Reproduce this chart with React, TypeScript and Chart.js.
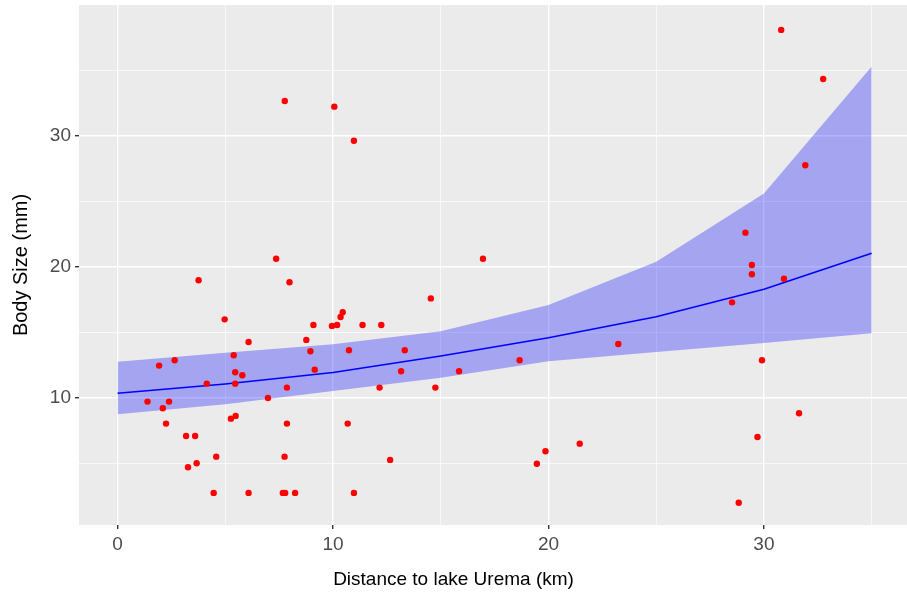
import React, { useEffect, useRef } from 'react';
import { Chart, registerables } from 'chart.js';

Chart.register(...registerables);

// Observed points (distance to lake Urema, km ; body size, mm)
const distanceKm = [
  3.76, 7.98, 14.54, 4.97, 10.45, 10.35, 9.09, 9.95, 10.19, 11.37, 12.24,
  6.08, 8.76, 8.95, 10.74, 13.33, 5.39, 2.65, 1.93, 5.46, 5.79, 9.15, 13.16,
  15.85, 4.14, 5.46, 7.86, 12.16, 14.75, 6.98, 1.39, 2.39, 2.1, 2.25, 5.26,
  5.48, 7.86, 10.68, 3.18, 3.6, 4.58, 7.75, 3.27, 3.67, 12.65, 4.46, 6.08,
  7.67, 7.78, 8.24, 10.97, 7.76, 10.06, 10.97, 7.36, 16.96, 30.8, 32.75,
  31.92, 29.14, 29.44, 29.44, 30.93, 28.52, 23.24, 18.66, 29.91, 31.63, 29.7,
  21.45, 19.86, 19.46, 28.83,
];
const bodySizeMm = [
  18.98, 18.83, 17.6, 16.0, 16.54, 16.18, 15.57, 15.5, 15.57, 15.57, 15.57,
  14.27, 14.43, 13.56, 13.64, 13.64, 13.26, 12.88, 12.47, 11.96, 11.73, 12.16,
  12.04, 12.04, 11.09, 11.09, 10.79, 10.79, 10.79, 10.0, 9.72, 9.72, 9.21,
  8.04, 8.42, 8.63, 8.04, 8.04, 7.1, 7.1, 5.52, 5.52, 4.71, 5.02, 5.27, 2.75,
  2.75, 2.75, 2.75, 2.75, 2.75, 32.67, 32.24, 29.64, 20.63, 20.63, 38.1,
  34.35, 27.76, 22.62, 20.15, 19.44, 19.1, 17.3, 14.12, 12.88, 12.88, 8.83,
  7.02, 6.51, 5.93, 4.98, 2.0,
];

// Fitted curve and confidence band
const fitX = [0, 5, 10, 15, 20, 25, 30, 35];
const fitY = [10.36, 11.07, 11.95, 13.2, 14.6, 16.2, 18.3, 21.05];
const lowerY = [8.76, 9.52, 10.53, 11.55, 12.8, 13.5, 14.2, 14.94];
const upperY = [12.77, 13.46, 14.1, 15.1, 17.1, 20.4, 25.6, 35.3];

// Axis ticks
const xMajorTicks = [0, 10, 20, 30];
const xMinorTicks = [5, 15, 25, 35];
const yMajorTicks = [10, 20, 30];
const yMinorTicks = [5, 15, 25, 35];

const FONT = "'Liberation Sans', Arial, Helvetica, sans-serif";

const panelBg = {
  id: 'panelBg',
  beforeDraw(chart: any) {
    const { ctx, chartArea } = chart;
    if (!chartArea) return;
    ctx.save();
    ctx.fillStyle = '#EBEBEB';
    ctx.fillRect(chartArea.left, chartArea.top, chartArea.right - chartArea.left, chartArea.bottom - chartArea.top);
    ctx.restore();
  },
};

// Let the panel run to the right edge of the canvas, as in the reference
const fullWidth = {
  id: 'fullWidth',
  afterLayout(chart: any) {
    const ca = chart.chartArea;
    const w = chart.width;
    if (ca && ca.right < w) {
      ca.right = w;
      ca.width = ca.right - ca.left;
      const xs = chart.scales.x;
      xs.right = w;
      xs.width = xs.right - xs.left;
      xs.configure();
    }
  },
};

function gridFor(major: number[]) {
  return {
    color: '#FFFFFF',
    lineWidth: (c: any) => (c.tick && major.includes(c.tick.value) ? 1.4 : 0.7),
    tickColor: (c: any) => (c.tick && major.includes(c.tick.value) ? '#333333' : 'rgba(0,0,0,0)'),
    tickLength: 4,
    drawTicks: true,
    drawOnChartArea: true,
  };
}

export default function App() {
  const ref = useRef<HTMLCanvasElement | null>(null);

  useEffect(() => {
    if (!ref.current) return;
    const xTicks = [...xMajorTicks, ...xMinorTicks].sort((a, b) => a - b);
    const yTicks = [...yMajorTicks, ...yMinorTicks].sort((a, b) => a - b);
    const chart = new Chart(ref.current, {
      type: 'scatter',
      data: {
        datasets: [
          {
            label: 'Observed',
            data: distanceKm.map((x, i) => ({ x, y: bodySizeMm[i] })),
            showLine: false,
            pointRadius: 3.2,
            pointBackgroundColor: '#FF0000',
            pointBorderColor: '#FF0000',
            pointBorderWidth: 0,
          },
          {
            label: 'Fit',
            data: fitX.map((x, i) => ({ x, y: fitY[i] })),
            showLine: true,
            borderColor: '#0000FF',
            borderWidth: 1.5,
            pointRadius: 0,
            fill: false,
          },
          {
            label: 'Upper',
            data: fitX.map((x, i) => ({ x, y: upperY[i] })),
            showLine: true,
            borderColor: 'rgba(0,0,0,0)',
            borderWidth: 0,
            pointRadius: 0,
            backgroundColor: 'rgba(0,0,255,0.3)',
            fill: 3,
          },
          {
            label: 'Lower',
            data: fitX.map((x, i) => ({ x, y: lowerY[i] })),
            showLine: true,
            borderColor: 'rgba(0,0,0,0)',
            borderWidth: 0,
            pointRadius: 0,
            fill: false,
          },
        ],
      },
      options: {
        animation: false,
        responsive: false,
        events: [],
        layout: { padding: { top: 5, left: 0, right: 0, bottom: 0 } },
        plugins: {
          legend: { display: false },
          tooltip: { enabled: false },
          title: {
            display: true,
            position: 'bottom',
            align: 'center',
            text: 'Distance to lake Urema (km)',
            color: '#000000',
            font: { family: FONT, size: 19, weight: 'normal', lineHeight: 1.2 },
            padding: { top: 0, bottom: 6 },
          },
        },
        scales: {
          x: {
            type: 'linear',
            min: -1.79,
            max: 36.64,
            border: { display: false },
            grid: gridFor(xMajorTicks) as any,
            afterBuildTicks: (scale: any) => {
              scale.ticks = xTicks.map((v) => ({ value: v }));
            },
            afterFit: (scale: any) => {
              scale.height = 43.2;
              scale.paddingLeft = 0;
              scale.paddingRight = 0;
            },
            ticks: {
              autoSkip: false,
              maxRotation: 0,
              padding: 4,
              color: '#4D4D4D',
              font: { family: FONT, size: 19 },
              callback: (v: any) => (xMajorTicks.includes(Number(v)) ? String(v) : ''),
            },
            title: { display: false },
          },
          y: {
            type: 'linear',
            min: 0.3,
            max: 40,
            border: { display: false },
            grid: gridFor(yMajorTicks) as any,
            afterBuildTicks: (scale: any) => {
              scale.ticks = yTicks.map((v) => ({ value: v }));
            },
            afterFit: (scale: any) => {
              scale.width = 79;
              scale.paddingTop = 0;
              scale.paddingBottom = 0;
            },
            ticks: {
              autoSkip: false,
              padding: 4,
              color: '#4D4D4D',
              font: { family: FONT, size: 19 },
              callback: (v: any) => (yMajorTicks.includes(Number(v)) ? String(v) : ''),
            },
            title: {
              display: true,
              text: 'Body Size (mm)',
              color: '#000000',
              font: { family: FONT, size: 20 },
              padding: { top: 9, bottom: 0 },
            },
          },
        },
      },
      plugins: [panelBg, fullWidth],
    });
    return () => chart.destroy();
  }, []);

  return (
    <div style={{ position: 'absolute', left: 0, top: 0, width: 907, height: 597 }}>
      <canvas ref={ref} width={907} height={597} style={{ display: 'block' }} />
    </div>
  );
}
